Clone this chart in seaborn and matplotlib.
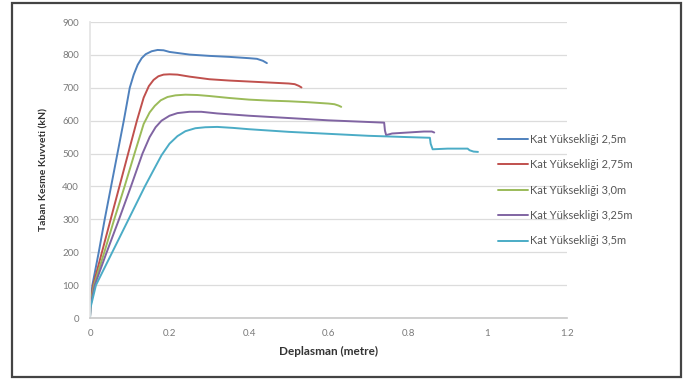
import matplotlib
matplotlib.use("Agg")
import matplotlib.pyplot as plt
import seaborn as sns
import pandas as pd
from matplotlib.patches import Rectangle

series_names = ["Kat Yüksekliği 2,5m", "Kat Yüksekliği 2,75m", "Kat Yüksekliği 3,0m",
                "Kat Yüksekliği 3,25m", "Kat Yüksekliği 3,5m"]
colors = ["#4F81BD", "#C0504D", "#9BBB59", "#8064A2", "#4BACC6"]

x_25 = [0, 0.001, 0.006, 0.022, 0.037, 0.053, 0.069, 0.085, 0.1, 0.11, 0.12, 0.13, 0.14,
        0.155, 0.17, 0.185, 0.2, 0.25, 0.3, 0.35, 0.4, 0.42, 0.435, 0.445]
y_25 = [0, 45, 100, 200, 300, 400, 500, 600, 700, 740, 770, 790, 802,
        811, 815, 814, 809, 801, 797, 794, 790, 788, 782, 775]

x_275 = [0, 0.001, 0.008, 0.03, 0.052, 0.074, 0.096, 0.118, 0.135, 0.148, 0.16, 0.172, 0.185,
         0.2, 0.22, 0.25, 0.3, 0.35, 0.4, 0.45, 0.5, 0.515, 0.525, 0.532]
y_275 = [0, 45, 100, 200, 300, 400, 500, 600, 670, 705, 724, 735, 740,
         741, 740, 734, 726, 722, 719, 716, 713, 711, 706, 701]

x_30 = [0, 0.001, 0.01, 0.036, 0.061, 0.087, 0.112, 0.135, 0.15, 0.163, 0.178, 0.195, 0.215,
        0.24, 0.27, 0.3, 0.35, 0.4, 0.45, 0.5, 0.55, 0.6, 0.615, 0.625, 0.632]
y_30 = [0, 40, 100, 200, 300, 400, 500, 590, 625, 645, 662, 672, 677,
        679, 678, 675, 669, 664, 661, 659, 656, 652, 650, 646, 642]

x_325 = [0, 0.001, 0.012, 0.042, 0.073, 0.103, 0.132, 0.15, 0.165, 0.18, 0.2, 0.22, 0.25,
         0.28, 0.32, 0.4, 0.5, 0.6, 0.7, 0.74, 0.742, 0.745, 0.76, 0.8, 0.84, 0.86, 0.866]
y_325 = [0, 35, 100, 200, 300, 400, 500, 550, 580, 600, 615, 623, 627,
         627, 622, 615, 608, 601, 596, 594, 570, 556, 561, 564, 567, 567, 564]

x_35 = [0, 0.001, 0.015, 0.056, 0.097, 0.138, 0.16, 0.18, 0.2, 0.22, 0.24, 0.265, 0.29, 0.32,
        0.36, 0.4, 0.5, 0.6, 0.7, 0.75, 0.8, 0.855, 0.857, 0.862, 0.9, 0.95, 0.955, 0.965, 0.976]
y_35 = [0, 30, 100, 200, 300, 400, 450, 495, 530, 553, 568, 577, 580, 581,
        578, 574, 566, 560, 554, 552, 550, 548, 530, 513, 515, 515, 510, 506, 505]

xs = [x_25, x_275, x_30, x_325, x_35]
ys = [y_25, y_275, y_30, y_325, y_35]

rows = []
for name, xv, yv in zip(series_names, xs, ys):
    for i, (a, b) in enumerate(zip(xv, yv)):
        rows.append({"Seri": name, "x": a, "y": b, "i": i})
df = pd.DataFrame(rows)

sns.set_theme(style="white")
plt.rcParams["font.family"] = ["Lato", "DejaVu Sans"]

fig = plt.figure(figsize=(6.83, 3.79), dpi=100)
ax = fig.add_axes([90 / 683, 1 - 318 / 379, (567 - 90) / 683, (318 - 22) / 379])

sns.lineplot(data=df, x="x", y="y", hue="Seri", hue_order=series_names,
             palette=colors, sort=False, estimator=None, units="Seri",
             linewidth=1.4, ax=ax, legend=True)
for ln in ax.lines:
    ln.set_solid_joinstyle("round")

ax.set_xlim(0, 1.2)
ax.set_ylim(0, 900)
ax.set_xticks([0, 0.2, 0.4, 0.6, 0.8, 1.0, 1.2])
ax.set_xticklabels(["0", "0.2", "0.4", "0.6", "0.8", "1", "1.2"])
ax.set_yticks(range(0, 1000, 100))
ax.yaxis.grid(True, color="#dcdcdc", linewidth=0.9)
ax.xaxis.grid(False)
for s in ["top", "right"]:
    ax.spines[s].set_visible(False)
ax.spines["left"].set_color("#e4e4e4")
ax.spines["bottom"].set_color("#c8c8c8")
ax.spines["bottom"].set_linewidth(1.2)
ax.tick_params(axis="both", labelsize=7, colors="#7a7a7a", length=0, pad=8)

ax.set_xlabel("Deplasman (metre)", fontsize=8.5, fontweight="bold", color="#333333", labelpad=6)
ax.set_ylabel("Taban Kesme Kuvveti (kN)", fontsize=7.5, fontweight="bold", color="#333333", labelpad=10)

handles, labels = ax.get_legend_handles_labels()
ax.legend(handles, labels, loc="center left", bbox_to_anchor=(498 / 683, 1 - 190 / 379),
          bbox_transform=fig.transFigure, frameon=False, fontsize=8,
          handlelength=2.7, handletextpad=0.2, labelspacing=1.3,
          borderpad=0, borderaxespad=0, labelcolor="#555555")

fig.patches.append(Rectangle((12 / 683, 2 / 379), (681 - 12) / 683, (376 - 2) / 379,
                             transform=fig.transFigure, fill=False,
                             edgecolor="#444444", linewidth=1.6))

fig.savefig("out.png", dpi=100)
